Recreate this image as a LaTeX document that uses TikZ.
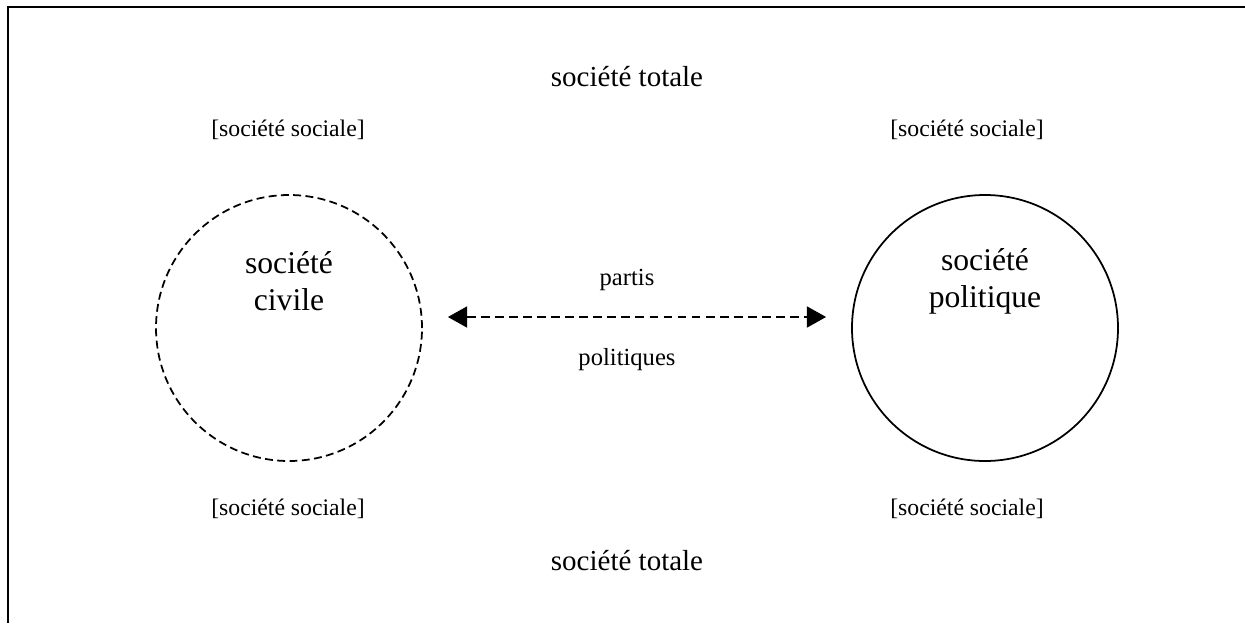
\documentclass[tikz,border=0pt]{standalone}
\usepackage{fontspec}
\setmainfont{Liberation Serif}
\usepackage{tikz}
\usetikzlibrary{positioning,calc,arrows.meta}

\tikzset{
    sphere/.style={draw, circle, line width=1pt, minimum size=5.32cm, inner sep=0pt},
    big/.style={font=\fontsize{16.5}{19}\selectfont},
    small/.style={font=\fontsize{13.5}{16}\selectfont},
    inner/.style={font=\fontsize{18}{21}\selectfont, align=center}
}

\begin{document}
\begin{tikzpicture}
    \useasboundingbox (0,0) rectangle (24.9,-12.46);
    % frame
    \draw[line width=1.2pt] (24.9,-0.14) -- (0.16,-0.14) -- (0.16,-12.46);

    \node[sphere, dash pattern=on 4.5pt off 2.5pt] (civ) at (5.78,-6.56) {};
    \node[sphere] (pol) at (19.7,-6.56) {};
    \node[inner] (civtxt) at ([yshift=0.93cm]civ.center) {société\\civile};
    \node[inner] (poltxt) at ([yshift=0.93cm]pol.center) {société\\politique};

    \draw[line width=1pt, dash pattern=on 5pt off 3pt, {Triangle[length=11pt,width=12pt]}-{Triangle[length=11pt,width=12pt]}]
        ([xshift=5mm,yshift=2.2mm]civ.east) -- ([xshift=-5mm,yshift=2.2mm]pol.west);
    \node[small, font=\fontsize{14}{16}\selectfont] (partis) at (12.54,-5.6) {partis};
    \node[small, font=\fontsize{14}{16}\selectfont] (polq) at (12.54,-7.2) {politiques};

    \node[big] (tottop) at (12.54,-1.54) {société totale};
    \node[big] (totbot) at (12.54,-11.22) {société totale};
    \node[small] (soctl) at (5.76,-2.6) {[société sociale]};
    \node[small] (soctr) at (19.34,-2.6) {[société sociale]};
    \node[small] (socbl) at (5.76,-10.18) {[société sociale]};
    \node[small] (socbr) at (19.34,-10.18) {[société sociale]};
\end{tikzpicture}
\end{document}
